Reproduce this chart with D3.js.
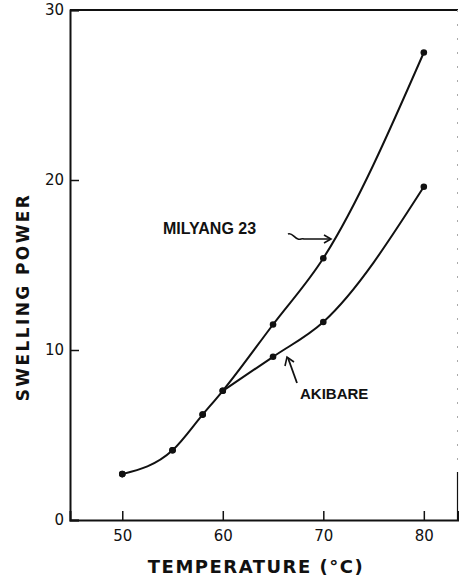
<!DOCTYPE html>
<html>
<head>
<meta charset="utf-8">
<script src="https://cdn.jsdelivr.net/npm/d3@7"></script>
<style>
  body { margin: 0; background: #fff; }
  .tick text { font-family: "DejaVu Sans", sans-serif; font-size: 15px; fill: #111; }
  .lbl { font-family: "DejaVu Sans", sans-serif; font-weight: bold; fill: #111; }
  .ann { font-family: "Liberation Sans", sans-serif; font-weight: bold; fill: #111; }
</style>
</head>
<body>
<div class="chart"></div>
<script>
// data
var temps = [50, 55, 58, 60, 65, 70, 80];
var milyang = [2.7, 4.1, 6.2, 7.6, 11.5, 15.4, 27.5];
var akibare = [2.7, 4.1, 6.2, 7.6, 9.6, 11.65, 19.6];
var xTicks = [50, 60, 70, 80];
var yTicks = [0, 10, 20, 30];

var svgWidth = 459;
var svgHeight = 586;

var svg = d3.select(".chart")
  .append("svg")
  .attr("width", svgWidth)
  .attr("height", svgHeight);

var xScale = d3.scaleLinear().domain([44.8, 83.4]).range([70, 458]);
var yScale = d3.scaleLinear().domain([0, 30]).range([520, 10]);

// frame: top line and faint right side
svg.append("line")
  .attr("x1", 70).attr("x2", 458).attr("y1", 10).attr("y2", 10)
  .attr("stroke", "#111").attr("stroke-width", 2);
svg.append("line")
  .attr("x1", 457.5).attr("x2", 457.5).attr("y1", 10).attr("y2", 520)
  .attr("stroke", "#aaa").attr("stroke-width", 1)
  .attr("stroke-dasharray", "2,12");
svg.append("line")
  .attr("x1", 457.5).attr("x2", 457.5).attr("y1", 472).attr("y2", 520)
  .attr("stroke", "#111").attr("stroke-width", 1.2);

// axes, ticks pointing inward
var bottomAxis = d3.axisBottom(xScale).tickValues(xTicks).tickSize(-9).tickPadding(10);
var leftAxis = d3.axisLeft(yScale).tickValues(yTicks).tickSize(-9).tickPadding(6);

var xAxis = svg.append("g").attr("transform", "translate(0,520)").call(bottomAxis);
var yAxis = svg.append("g").attr("transform", "translate(70,0)").call(leftAxis);

[xAxis, yAxis].forEach(function(ax) {
  ax.select(".domain").attr("stroke", "#111").attr("stroke-width", 2);
  ax.selectAll(".tick line").attr("stroke", "#111").attr("stroke-width", 1.5);
});

// curves (akibare splits off milyang at 60, so draw it from there)
var line = d3.line()
  .x(d => xScale(d[0]))
  .y(d => yScale(d[1]))
  .curve(d3.curveMonotoneX);

var series = [
  { vals: milyang, from: 0 },
  { vals: akibare, from: 3 }
];
series.forEach(function(s) {
  var pts = temps.map((t, i) => [t, s.vals[i]]);
  svg.append("path")
    .datum(pts.slice(s.from))
    .attr("d", line)
    .attr("fill", "none")
    .attr("stroke", "#111")
    .attr("stroke-width", 2);
  svg.selectAll(null)
    .data(pts)
    .enter()
    .append("circle")
    .attr("cx", d => xScale(d[0]))
    .attr("cy", d => yScale(d[1]))
    .attr("r", 3.3)
    .attr("fill", "#111");
});

// axis titles
svg.append("text")
  .attr("class", "lbl")
  .attr("transform", "translate(29,297) rotate(-90)")
  .attr("text-anchor", "middle")
  .style("font-size", "17px")
  .style("letter-spacing", "2.4px")
  .text("SWELLING POWER");

svg.append("text")
  .attr("class", "lbl")
  .attr("x", 256)
  .attr("y", 573)
  .attr("text-anchor", "middle")
  .style("font-size", "18px")
  .style("letter-spacing", "1.5px")
  .text("TEMPERATURE (°C)");

// annotations
svg.append("text")
  .attr("class", "ann")
  .attr("x", 163)
  .attr("y", 234)
  .style("font-size", "16px")
  .text("MILYANG 23");

svg.append("text")
  .attr("class", "ann")
  .attr("x", 300)
  .attr("y", 399)
  .style("font-size", "15px")
  .text("AKIBARE");

svg.append("path")
  .attr("d", "M288,234 C292,232 294,238 298,239 C300,240 302,238 304,239 L330,239")
  .attr("fill", "none").attr("stroke", "#111").attr("stroke-width", 1.6);
svg.append("path")
  .attr("d", "M324,235 L331,239 L324,243")
  .attr("fill", "none").attr("stroke", "#111").attr("stroke-width", 1.6);

svg.append("path")
  .attr("d", "M297,383 L288,358")
  .attr("fill", "none").attr("stroke", "#111").attr("stroke-width", 1.8);
svg.append("path")
  .attr("d", "M285,366 L287,357 L294,362")
  .attr("fill", "none").attr("stroke", "#111").attr("stroke-width", 1.6);
</script>
</body>
</html>
